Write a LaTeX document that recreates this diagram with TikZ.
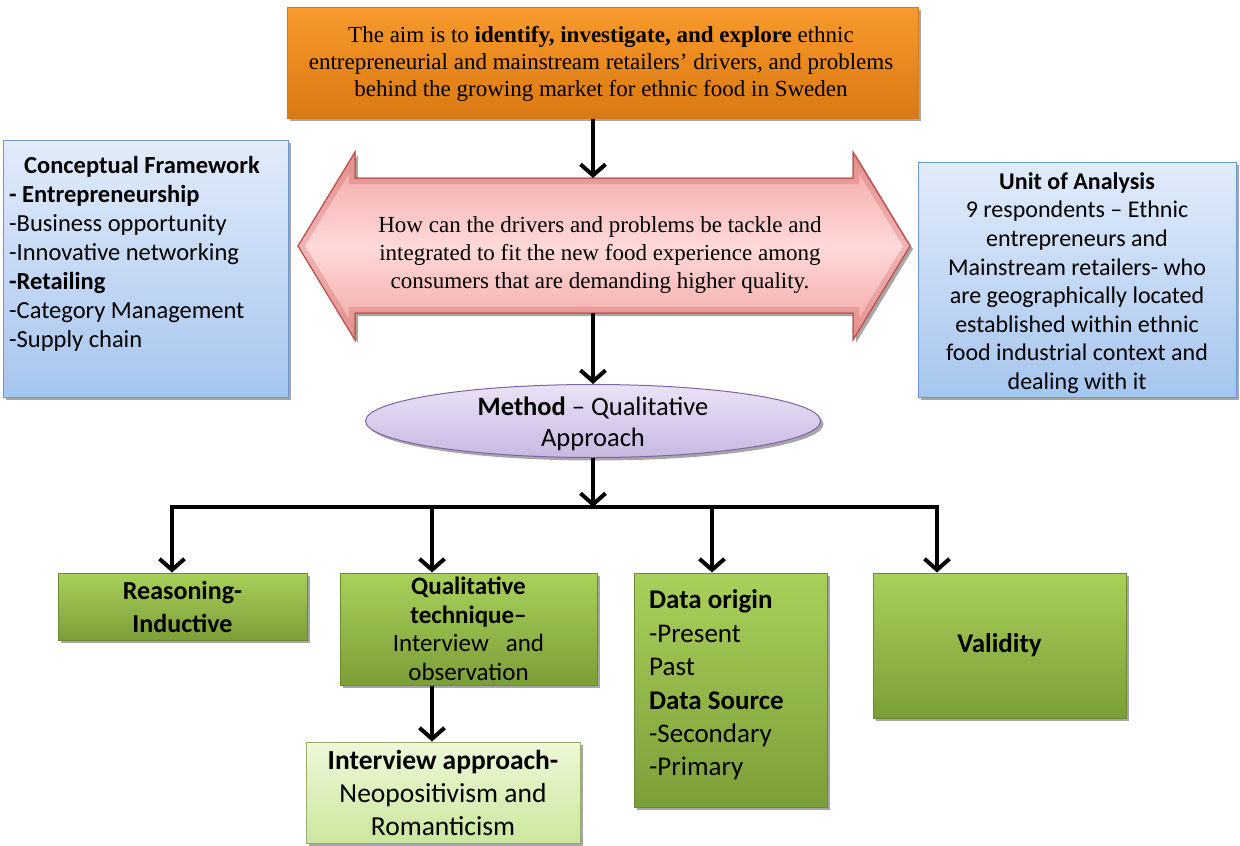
\documentclass[tikz,border=0pt]{standalone}
\usepackage{fontspec}
\setmainfont{Liberation Serif}
\newfontfamily\calfont{Carlito}
\usetikzlibrary{arrows.meta,shadows,shapes.geometric}

\definecolor{orangeT}{HTML}{F89A2C}
\definecolor{orangeB}{HTML}{DB7812}
\definecolor{orangeD}{HTML}{D9761A}
\definecolor{blueT}{HTML}{E2ECFA}
\definecolor{blueB}{HTML}{A6C5EE}
\definecolor{blueD}{HTML}{6F97CF}
\definecolor{greenT}{HTML}{A9D05A}
\definecolor{greenB}{HTML}{7C9E38}
\definecolor{greenD}{HTML}{6C8A2F}
\definecolor{lgreenT}{HTML}{EEF8D8}
\definecolor{lgreenB}{HTML}{CBE79E}
\definecolor{pinkE}{HTML}{F0A4A2}
\definecolor{pinkM}{HTML}{FFD9D9}
\definecolor{pinkD}{HTML}{C0504D}
\definecolor{lavT}{HTML}{EAE2F5}
\definecolor{lavB}{HTML}{C8B8E2}
\definecolor{lavD}{HTML}{8064A2}

\tikzset{
  shade/.style={drop shadow={shadow xshift=3pt,shadow yshift=-3pt,opacity=0.35,fill=black}},
  basebox/.style={rectangle,draw,line width=1pt,inner sep=0pt,shade},
  aimbox/.style={basebox,draw=orangeD,top color=orangeT,bottom color=orangeB},
  bluebox/.style={basebox,draw=blueD,top color=blueT,bottom color=blueB},
  greenbox/.style={basebox,draw=greenD,top color=greenT,bottom color=greenB},
  lgreenbox/.style={basebox,draw=greenD!70,top color=lgreenT,bottom color=lgreenB},
  methodell/.style={ellipse,draw=lavD,line width=1pt,inner sep=0pt,top color=lavT,bottom color=lavB,shade},
  conn/.style={line width=4pt,-{Straight Barb[length=11pt,width=25pt]}},
  bar/.style={line width=4pt},
  plain/.style={inner sep=0pt,text=black},
}

\begin{document}
\begin{tikzpicture}[x=1pt,y=-1pt]
\useasboundingbox (0,0) rectangle (1240,846);

% aim of the study
\node[aimbox,minimum width=631,minimum height=111] (aim) at (602.5,62.5) {};
\node[plain,align=center,font=\fontsize{23}{27}\selectfont] (aimtext) at (601,64)
  {The aim is to \textbf{identify, investigate, and explore} ethnic\\
   entrepreneurial and mainstream retailers’ drivers, and problems\\
   behind the growing market for ethnic food in Sweden};

% conceptual framework
\node[bluebox,minimum width=285,minimum height=257] (cf) at (145.5,268.5) {};
\node[plain,anchor=west,align=left,font=\calfont\fontsize{24.5}{29}\selectfont] (cftext) at (9,254)
  {\hspace*{15pt}\textbf{Conceptual Framework}\\
   \textbf{- Entrepreneurship}\\
   -Business opportunity\\
   -Innovative networking\\
   \textbf{-Retailing}\\
   -Category Management\\
   -Supply chain};

% unit of analysis
\node[bluebox,minimum width=318,minimum height=235] (ua) at (1077,279.5) {};
\node[plain,align=center,font=\calfont\fontsize{24}{28.6}\selectfont] (uatext) at (1077,283)
  {\textbf{Unit of Analysis}\\
   9 respondents – Ethnic\\
   entrepreneurs and\\
   Mainstream retailers- who\\
   are geographically located\\
   established within ethnic\\
   food industrial context and\\
   dealing with it};

% research question as a double arrow
\path[draw=pinkD,line width=1pt,top color=pinkE,bottom color=pinkE,middle color=pinkM,shade]
  (298,246) -- (355,152) -- (355,178) -- (853,178) -- (853,152) -- (910,246)
  -- (853,340) -- (853,313) -- (355,313) -- (355,340) -- cycle;
\begin{scope}
  \clip (298,246) -- (355,152) -- (355,178) -- (853,178) -- (853,152) -- (910,246)
    -- (853,340) -- (853,313) -- (355,313) -- (355,340) -- cycle;
  \draw[pinkD,opacity=0.25,line width=12pt]
    (298,246) -- (355,152) -- (355,178) -- (853,178) -- (853,152) -- (910,246)
    -- (853,340) -- (853,313) -- (355,313) -- (355,340) -- cycle;
\end{scope}
\draw[pinkD,line width=1pt]
  (298,246) -- (355,152) -- (355,178) -- (853,178) -- (853,152) -- (910,246)
  -- (853,340) -- (853,313) -- (355,313) -- (355,340) -- cycle;
\node[plain,align=center,font=\fontsize{23}{28}\selectfont] (rq) at (600,255)
  {How can the drivers and problems be tackle and\\
   integrated to fit the new food experience among\\
   consumers that are demanding higher quality.};
\coordinate (rqtop) at (593,178);
\coordinate (rqbot) at (593,313);

% method
\node[methodell,minimum width=455,minimum height=73] (method) at (593,421) {};
\node[plain,align=center,font=\calfont\fontsize{26.5}{31}\selectfont] (mtext) at (593,424)
  {\textbf{Method} – Qualitative\\Approach};

% method branches
\node[greenbox,minimum width=249,minimum height=67,align=center,
      font=\calfont\bfseries\fontsize{26}{33}\selectfont] (reason) at (182.5,606.5)
  {Reasoning-\\Inductive};
\node[greenbox,minimum width=257,minimum height=112,align=center,
      font=\calfont\fontsize{25}{28.5}\selectfont] (qual) at (468.5,629)
  {\textbf{Qualitative}\\\textbf{technique–}\\Interview\ \ \ and\\observation};
\node[greenbox,minimum width=193,minimum height=234] (data) at (730.5,690) {};
\node[plain,anchor=west,align=left,
      font=\calfont\fontsize{27}{33.4}\selectfont] (datatext) at (649,685)
  {\textbf{Data origin}\\-Present\\Past\\\textbf{Data Source}\\-Secondary\\-Primary};
\node[greenbox,minimum width=253,minimum height=145,
      font=\calfont\bfseries\fontsize{27}{30}\selectfont] (valid) at (999.5,645.5)
  {Validity};
\node[lgreenbox,minimum width=274,minimum height=101,align=center,
      font=\calfont\fontsize{27.5}{33}\selectfont] (iapp) at (443,792.5)
  {\textbf{Interview approach-}\\Neopositivism and\\Romanticism};

% connectors
\coordinate (bmid) at (593,507);
\coordinate (bl) at (170,507);
\coordinate (br) at (939,507);
\coordinate (b1) at (172,507);
\coordinate (b2) at (432,507);
\coordinate (b3) at (712,507);
\coordinate (b4) at (937,507);

\draw[conn] (aim.south -| rqtop) -- (rqtop);
\draw[conn] (rqbot) -- (method.north -| rqbot);
\draw[conn] (method.south -| bmid) -- (bmid);
\draw[bar] (bl) -- (br);
\draw[conn] (b1) -- (b1 |- reason.north);
\draw[conn] (b2) -- (b2 |- qual.north);
\draw[conn] (b3) -- (b3 |- data.north);
\draw[conn] (b4) -- (b4 |- valid.north);
\draw[conn] (b2 |- qual.south) -- (b2 |- iapp.north);
\end{tikzpicture}
\end{document}
